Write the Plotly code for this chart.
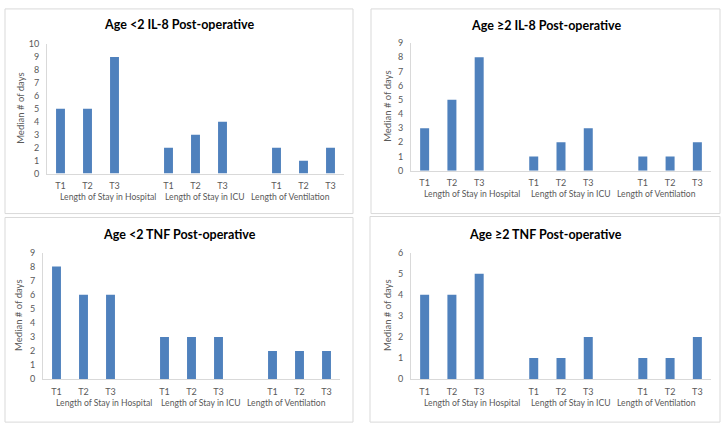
import plotly.graph_objects as go

W, H = 723, 431

# ---- data ----
titles = ["Age <2 IL-8 Post-operative", "Age \u22652 IL-8 Post-operative",
          "Age <2 TNF Post-operative", "Age \u22652 TNF Post-operative"]
groups = ["Length of Stay in Hospital", "Length of Stay in ICU", "Length of Ventilation"]
time_labels = ["T1", "T2", "T3"]
il8_lt2 = [5, 5, 9, 2, 3, 4, 2, 1, 2]
il8_ge2 = [3, 5, 8, 1, 2, 3, 1, 1, 2]
tnf_lt2 = [8, 6, 6, 3, 3, 3, 2, 2, 2]
tnf_ge2 = [4, 4, 5, 1, 1, 2, 1, 1, 2]
y_max = [10, 9, 9, 6]
y_title = "Median # of days"

series = [il8_lt2, il8_ge2, tnf_lt2, tnf_ge2]

# ---- layout geometry (pixels) ----
panels = [(5, 3, 353, 213), (371, 3, 720, 213), (5, 217, 353, 427), (370, 216, 720, 427)]
plots = [(47, 344, 172, 39), (411, 711, 169, 38), (43, 340, 383, 253), (411, 711, 383, 253)]
title_y = [19, 20, 234, 234]
ytitle_x = [21, 388, 19, 388]
group_y_off = 24
group_pos = [1.75, 5.35, 8.5]

xpos = []
for g in range(len(groups)):
    for t in range(len(time_labels)):
        xpos.append(g * 4 + t)
tick_text = time_labels * len(groups)

FONT = "Lato"
BAR = "#4F81BD"
TXT = "#595959"

fig = go.Figure()
layout = dict(width=W, height=H, margin=dict(l=0, r=0, t=0, b=0),
              paper_bgcolor="white", plot_bgcolor="white", showlegend=False,
              annotations=[], shapes=[])

for i in range(4):
    sfx = "" if i == 0 else str(i + 1)
    x0, x1, yb, yt = plots[i]
    fig.add_trace(go.Bar(x=xpos, y=series[i], marker=dict(color=BAR, line=dict(width=0)),
                         width=0.33, xaxis="x" + sfx, yaxis="y" + sfx,
                         hoverinfo="x+y"))
    layout["xaxis" + sfx] = dict(domain=[x0 / W, x1 / W], anchor="y" + sfx,
                                 range=[-0.5, 10.5], tickvals=xpos, ticktext=tick_text,
                                 showgrid=False, zeroline=False, showline=True,
                                 linecolor="#d9d9d9", linewidth=1, ticks="",
                                 ticklabelstandoff=4,
                                 tickfont=dict(family=FONT, size=9, color=TXT),
                                 fixedrange=True)
    layout["yaxis" + sfx] = dict(domain=[1 - yb / H, 1 - yt / H], anchor="x" + sfx,
                                 range=[0, y_max[i]], dtick=1, showgrid=False,
                                 zeroline=False, showline=True, linecolor="#d9d9d9",
                                 linewidth=1, ticks="", ticklabelstandoff=5,
                                 tickfont=dict(family=FONT, size=9, color=TXT),
                                 fixedrange=True)
    px0, py0, px1, py1 = panels[i]
    layout["shapes"].append(dict(type="rect", xref="paper", yref="paper",
                                 x0=px0 / W, x1=px1 / W, y0=1 - py1 / H, y1=1 - py0 / H,
                                 line=dict(color="#d9d9d9", width=1), layer="below"))
    layout["annotations"].append(dict(text="<b>" + titles[i] + "</b>", xref="paper", yref="paper",
                                      x=(px0 + px1) / 2 / W, y=1 - title_y[i] / H,
                                      showarrow=False, xanchor="center", yanchor="middle",
                                      font=dict(family=FONT, size=12.5, color="#000000")))
    layout["annotations"].append(dict(text=y_title, xref="paper", yref="paper",
                                      x=ytitle_x[i] / W, y=1 - (yb + yt) / 2 / H,
                                      textangle=-90, showarrow=False,
                                      xanchor="center", yanchor="middle",
                                      font=dict(family=FONT, size=9.5, color=TXT)))
    for g, name in enumerate(groups):
        layout["annotations"].append(dict(text=name, xref="x" + sfx, yref="paper",
                                          x=group_pos[g], y=1 - (yb + group_y_off) / H,
                                          showarrow=False, xanchor="center", yanchor="middle",
                                          font=dict(family=FONT, size=8.6, color=TXT)))

fig.update_layout(**layout)
fig.write_html("out.html", config={"displayModeBar": False},
               post_script="document.body.style.margin='0px';document.body.style.overflow='hidden';")
